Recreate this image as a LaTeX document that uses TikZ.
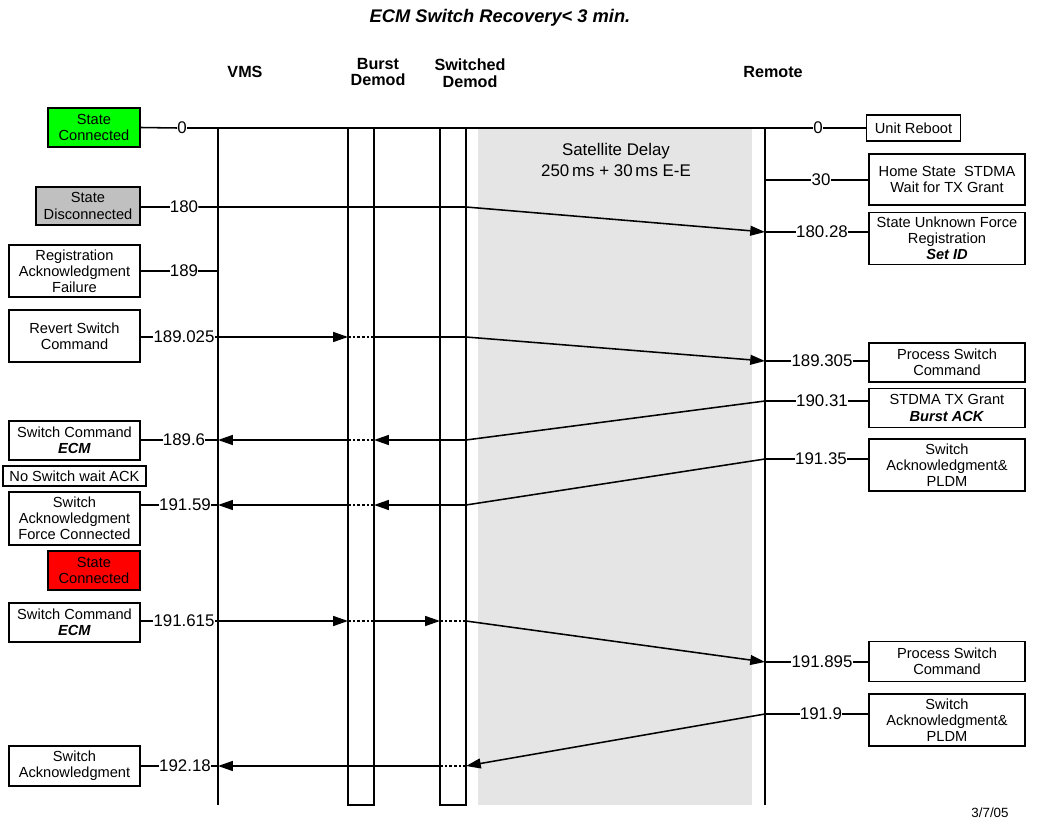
\documentclass[tikz,border=0pt]{standalone}
\usepackage{fontspec}
\setmainfont{Liberation Sans}
\usepackage{xcolor}
\definecolor{stategreen}{HTML}{00FF00}
\definecolor{stategrey}{HTML}{C0C0C0}
\definecolor{statered}{HTML}{FF0000}
\definecolor{satgrey}{HTML}{E5E5E5}
\usetikzlibrary{arrows.meta}

\begin{document}
\begin{tikzpicture}[x=0.025cm, y=-0.025cm,
  evt/.style={draw, line width=0.9pt, inner sep=0pt, align=center,
              font=\fontsize{10.4}{11.5}\selectfont},
  lbox/.style={evt, minimum width=3.275cm},
  rbox/.style={evt, minimum width=3.9cm},
  stamp/.style={inner sep=0pt, font=\fontsize{12}{14}\selectfont},
  head/.style={align=center, font=\fontsize{11.5}{12}\selectfont\bfseries},
  demod/.style={draw, line width=1.1pt, outer sep=0pt,
                minimum width=0.65cm, minimum height=16.925cm},
  ln/.style={line width=1.1pt},
  arr/.style={ln, -{Triangle[length=10.5pt, width=7pt]}},
  dots/.style={line width=2pt, dash pattern=on 2pt off 1.3pt}
]
  \useasboundingbox (0,0) rectangle (1039,820);

  \node[font=\fontsize{13}{15}\selectfont\bfseries\itshape] (title) at (500,18) {ECM Switch Recovery< 3 min.};

  \node[head] (hvms)    at (245,72) {VMS};
  \node[head] (hburst)  at (378,72) {Burst\\Demod};
  \node[head] (hswitch) at (470,73) {Switched\\Demod};
  \node[head] (hremote) at (773,72) {Remote};

  \fill[satgrey] (478,128) rectangle (752,805);
  \node[align=center, font=\fontsize{12}{14.5}\selectfont] (sat) at (616,160) {Satellite Delay\\250\,ms + 30\,ms E-E};

  \coordinate (vT) at (218,128); \coordinate (vB) at (218,805);
  \coordinate (rT) at (765,128); \coordinate (rB) at (765,805);
  \node[demod] (bd) at (361,466.5) {};
  \node[demod] (sd) at (453,466.5) {};
  \draw[ln] (vT) -- (vB);
  \draw[ln] (rT) -- (rB);

  % VMS side
  \node[evt, fill=stategreen, minimum width=2.3cm, minimum height=0.975cm] (vconn) at (94,127.5) {State\\Connected};
  \node[evt, fill=stategrey, minimum width=2.6cm, minimum height=0.95cm] (vdisc) at (88,206) {State\\Disconnected};
  \node[lbox, minimum height=1.3cm] (vregfail) at (74.5,271) {Registration\\Acknowledgment\\Failure};
  \node[lbox, minimum height=1.3cm] (vrevert) at (74.5,336) {Revert Switch\\Command};
  \node[lbox, minimum height=0.975cm] (vcmd1) at (74.5,440.5) {Switch Command\\\textbf{\textit{ECM}}};
  \node[evt, minimum width=3.575cm, minimum height=0.5cm] (vnoack) at (74.5,476) {No Switch wait ACK};
  \node[lbox, minimum height=1.325cm] (vack1) at (74.5,518.5) {Switch\\Acknowledgment\\Force Connected};
  \node[evt, fill=statered, minimum width=2.3cm, minimum height=0.975cm] (vconn2) at (94,570.5) {State\\Connected};
  \node[lbox, minimum height=0.975cm] (vcmd2) at (74.5,622.5) {Switch Command\\\textbf{\textit{ECM}}};
  \node[lbox, minimum height=1cm] (vack2) at (74.5,766) {Switch\\Acknowledgment};

  \node[stamp] (t0)      at (182,128) {0};
  \node[stamp] (t180)    at (184,207) {180};
  \node[stamp] (t189)    at (184,271) {189};
  \node[stamp] (t189025) at (184,337) {189.025};
  \node[stamp] (t1896)   at (184,440) {189.6};
  \node[stamp] (t19159)  at (185,505) {191.59};
  \node[stamp] (t191615) at (184,621) {191.615};
  \node[stamp] (t19218)  at (185,766) {192.18};

  % Remote side
  \node[evt, minimum width=2.35cm, minimum height=0.65cm] (rreboot) at (913.5,128) {Unit Reboot};
  \node[rbox, minimum height=1.275cm] (rhome) at (947,179.5) {Home State~ STDMA\\Wait for TX Grant};
  \node[rbox, minimum height=1.3cm] (runknown) at (947,238.5) {State Unknown Force\\Registration\\\textbf{\textit{Set ID}}};
  \node[rbox, minimum height=0.975cm] (rproc1) at (947,362.5) {Process Switch\\Command};
  \node[rbox, minimum height=0.975cm] (rgrant) at (947,408) {STDMA TX Grant\\\textbf{\textit{Burst ACK}}};
  \node[rbox, minimum height=1.3cm] (rack1) at (947,465) {Switch\\Acknowledgment\&\\PLDM};
  \node[rbox, minimum height=1cm] (rproc2) at (947,661.5) {Process Switch\\Command};
  \node[rbox, minimum height=1.3cm] (rack2) at (947,720) {Switch\\Acknowledgment\&\\PLDM};

  \node[stamp] (r0)      at (818,128) {0};
  \node[stamp] (r30)     at (821,180) {30};
  \node[stamp] (r18028)  at (822,232) {180.28};
  \node[stamp] (r189305) at (822,361) {189.305};
  \node[stamp] (r19031)  at (822,401) {190.31};
  \node[stamp] (r19135)  at (821,459) {191.35};
  \node[stamp] (r191895) at (822,662) {191.895};
  \node[stamp] (r1919)   at (821,714) {191.9};

  \node[font=\fontsize{9.5}{11}\selectfont] (date) at (990,813) {3/7/05};

  % time 0
  \draw[ln] (vconn.east) -- (t0.west);
  \draw[ln] (t0.east) -- (r0.west);
  \draw[ln] (r0.east) -- (rreboot.west);

  % remote ticks
  \draw[ln] (rT |- r30) -- (r30.west);
  \draw[ln] (r30.east) -- (rhome.west |- r30);
  \draw[ln] (rT |- r18028) -- (r18028.west);
  \draw[ln] (r18028.east) -- (runknown.west |- r18028);
  \draw[ln] (rT |- r189305) -- (r189305.west);
  \draw[ln] (r189305.east) -- (rproc1.west |- r189305);
  \draw[ln] (rT |- r19031) -- (r19031.west);
  \draw[ln] (r19031.east) -- (rgrant.west |- r19031);
  \draw[ln] (rT |- r19135) -- (r19135.west);
  \draw[ln] (r19135.east) -- (rack1.west |- r19135);
  \draw[ln] (rT |- r191895) -- (r191895.west);
  \draw[ln] (r191895.east) -- (rproc2.west |- r191895);
  \draw[ln] (rT |- r1919) -- (r1919.west);
  \draw[ln] (r1919.east) -- (rack2.west |- r1919);

  % 180
  \draw[ln] (vdisc.east |- t180) -- (t180.west);
  \draw[arr] (t180.east) -- (sd.east |- t180) -- (rT |- r18028);

  % 189
  \draw[ln] (vregfail.east |- t189) -- (t189.west);
  \draw[ln] (t189.east) -- (vT |- t189);

  % 189.025
  \draw[ln] (vrevert.east |- t189025) -- (t189025.west);
  \draw[ln] (t189025.east) -- (vT |- t189025);
  \draw[arr] (vT |- t189025) -- (bd.west |- t189025);
  \draw[dots] (bd.west |- t189025) -- (bd.east |- t189025);
  \draw[arr] (bd.east |- t189025) -- (sd.east |- t189025) -- (rT |- r189305);

  % 189.6
  \draw[ln] (vcmd1.east |- t1896) -- (t1896.west);
  \draw[ln] (t1896.east) -- (vT |- t1896);
  \draw[arr] (rT |- r19031) -- (sd.east |- t1896) -- (bd.east |- t1896);
  \draw[dots] (bd.east |- t1896) -- (bd.west |- t1896);
  \draw[arr] (bd.west |- t1896) -- (vT |- t1896);

  % 191.59
  \draw[ln] (vack1.east |- t19159) -- (t19159.west);
  \draw[ln] (t19159.east) -- (vT |- t19159);
  \draw[arr] (rT |- r19135) -- (sd.east |- t19159) -- (bd.east |- t19159);
  \draw[dots] (bd.east |- t19159) -- (bd.west |- t19159);
  \draw[arr] (bd.west |- t19159) -- (vT |- t19159);

  % 191.615
  \draw[ln] (vcmd2.east |- t191615) -- (t191615.west);
  \draw[ln] (t191615.east) -- (vT |- t191615);
  \draw[arr] (vT |- t191615) -- (bd.west |- t191615);
  \draw[dots] (bd.west |- t191615) -- (bd.east |- t191615);
  \draw[arr] (bd.east |- t191615) -- (sd.west |- t191615);
  \draw[dots] (sd.west |- t191615) -- (sd.east |- t191615);
  \draw[arr] (sd.east |- t191615) -- (rT |- r191895);

  % 192.18
  \draw[ln] (vack2.east |- t19218) -- (t19218.west);
  \draw[ln] (t19218.east) -- (vT |- t19218);
  \draw[arr] (rT |- r1919) -- (sd.east |- t19218);
  \draw[dots] (sd.east |- t19218) -- (sd.west |- t19218);
  \draw[arr] (sd.west |- t19218) -- (vT |- t19218);
\end{tikzpicture}
\end{document}
